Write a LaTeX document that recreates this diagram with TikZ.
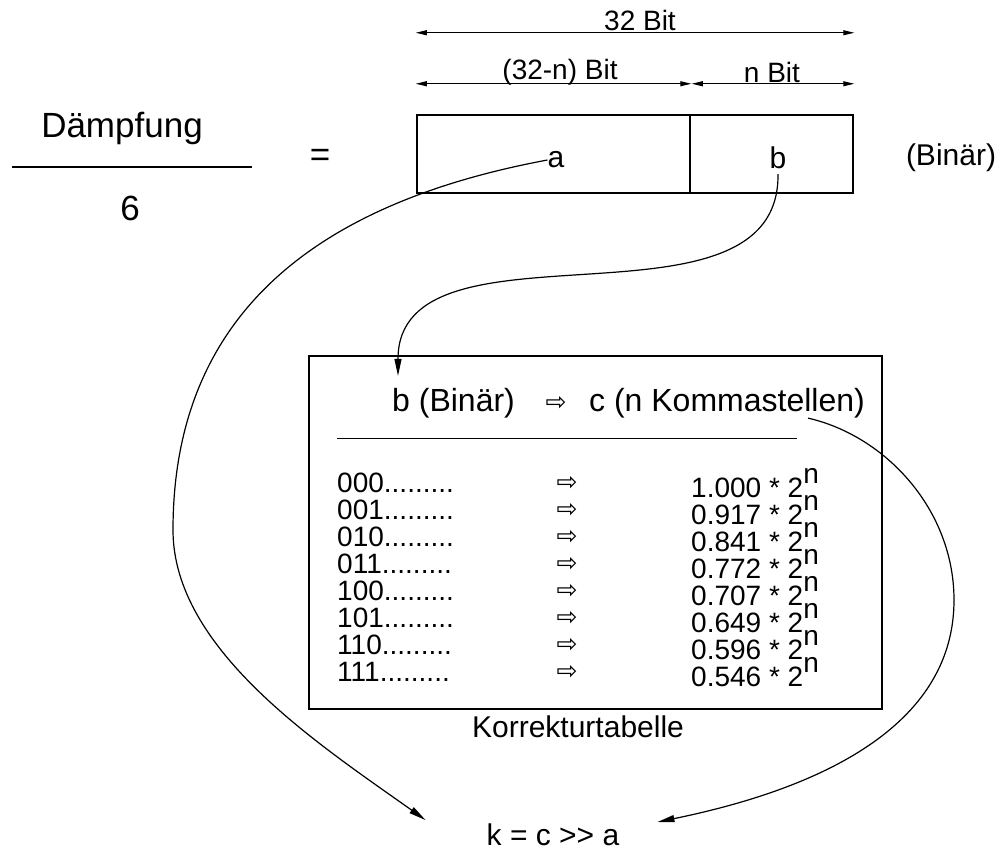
\documentclass[tikz,border=0pt]{standalone}
\usepackage{fontspec}
\setmainfont{Liberation Sans}
\newfontfamily\pfeilfont{DejaVu Sans}
\usetikzlibrary{arrows.meta}

% hollow arrow of the lookup table
\newcommand{\pfeil}{{\pfeilfont\fontsize{25}{25}\selectfont\char"21E8}}
% raised exponent
\newcommand{\hoch}[1]{\raisebox{0.5em}{#1}}

\tikzstyle{txt} = [inner sep=0pt, font=\fontsize{30}{30}\selectfont]
\tikzstyle{kopftxt} = [inner sep=0pt, font=\fontsize{32}{32}\selectfont]
\tikzstyle{bittxt} = [inner sep=0pt, font=\fontsize{28}{28}\selectfont]
\tikzstyle{bigtxt} = [inner sep=0pt, font=\fontsize{35}{35}\selectfont]
\tikzstyle{rowtxt} = [inner sep=0pt, anchor=west, font=\fontsize{28}{28}\selectfont]
\tikzstyle{feld} = [
    draw,
    line width=2.5pt,
    rectangle,
    minimum height=78pt,
    inner sep=0pt
    ]
\tikzstyle{tabbox} = [draw, line width=1.2pt, rectangle, inner sep=0pt]
\tikzstyle{dim} = [{Triangle[length=11pt,width=5pt]}-{Triangle[length=11pt,width=5pt]}, line width=1pt]
\tikzstyle{conn} = [-{Triangle[length=17pt,width=7pt]}, line width=1.2pt]

\begin{document}
\begin{tikzpicture}[x=1pt,y=-1pt]
\useasboundingbox (0,0) rectangle (998,851);

% Daempfung / 6 =
\node[bigtxt] (daempfung) at (122,128) {Dämpfung};
\draw[line width=2pt] (12,167) -- (252,167);
\node[bigtxt] (sechs) at (130,208) {6};
\node[bigtxt] (gleich) at (320,158) {=};

% the 32 bit word
\node[feld, minimum width=273pt] (fa) at (553.5,154) {};
\node[feld, minimum width=163pt] (fb) at (771.5,154) {};
\node[txt] (a) at (556,160) {a};
\node[txt] (b) at (778,158) {b};
\node[txt] (binaer) at (951,158) {(Binär)};

% bit widths
\node[bittxt] (w32) at (640,20) {32 Bit};
\draw[dim] ([yshift=81pt]fa.north west) -- ([yshift=81pt]fb.north east);
\node[bittxt] (w32n) at (560,72) {(32-n) Bit};
\draw[dim] ([yshift=30pt]fa.north west) -- ([yshift=30pt]fa.north east);
\node[bittxt] (wn) at (772,72) {n Bit};
\draw[dim] ([xshift=3pt,yshift=30pt]fb.north west) -- ([yshift=30pt]fb.north east);

% lookup table
\node[tabbox, minimum width=573pt, minimum height=353pt] (tabelle) at (595.5,532.5) {};
\node[kopftxt, anchor=west] (kopfb) at (392,403) {b (Binär)};
\node[inner sep=0pt] (kopfpfeil) at (556,403) {\pfeil};
\node[kopftxt, anchor=east] (kopfc) at (865,403) {c (n Kommastellen)};
\draw[line width=1pt] (337,438) -- (797,438);
\foreach \bits/\wert [count=\i from 0] in
    {000/1.000, 001/0.917, 010/0.841, 011/0.772, 100/0.707, 101/0.649, 110/0.596, 111/0.546} {
  \node[rowtxt] (zeile\i) at (337,{483+27*\i}) {\bits.........};
  \node[inner sep=0pt] (pfeil\i) at (567,{483+27*\i}) {\pfeil};
  \node[rowtxt] (wert\i) at (691,{483+27*\i}) {\wert\ * 2\hoch{n}};
}
\node[txt] (korrektur) at (578,727) {Korrekturtabelle};

% result
\node[txt] (k) at (553,835) {k = c >{}> a};

% connectors
\draw[conn] ([yshift=-5pt]b.south) .. controls (780,344) and (398,209) .. ([xshift=6pt,yshift=12pt]kopfb.north west);
\draw[conn] (a.west) .. controls (333,200) and (173,302) .. (173,530)
    .. controls (173,650) and (320,745) .. ([xshift=-61pt,yshift=15pt]k.west);
\draw[conn] ([xshift=-57pt]kopfc.south east) .. controls (886,436) and (954,510) .. (954,600)
    .. controls (954,720) and (833,786) .. ([xshift=38pt,yshift=13pt]k.east);
\end{tikzpicture}
\end{document}
